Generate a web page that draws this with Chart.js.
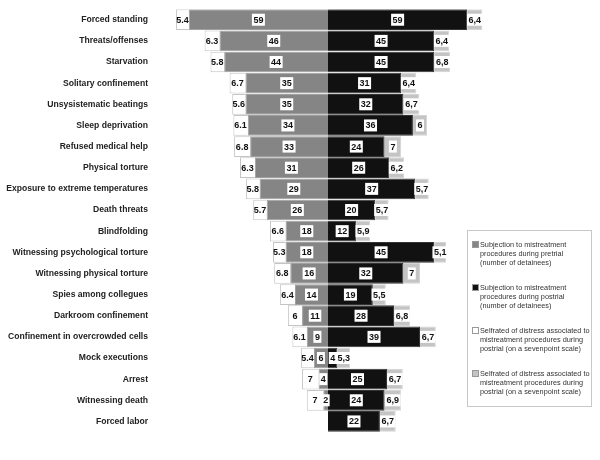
<!DOCTYPE html>
<html>
<head>
<meta charset="utf-8">
<script src="https://cdn.jsdelivr.net/npm/chart.js@4"></script>
<style>
  html, body { margin: 0; padding: 0; background: #fff; }
  #wrap { position: relative; width: 600px; height: 460px; }
  #legend {
    position: absolute; left: 467px; top: 230px; width: 125px; height: 177px;
    border: 1px solid #c8c8c8; box-sizing: border-box;
    font-family: 'Liberation Sans', Arial, sans-serif; font-size: 7.3px; color: #333; line-height: 9px;
    white-space: nowrap;
  }
  .item { position: absolute; left: 4px; right: 0; padding-left: 8px; }
  .item i { position: absolute; left: 0; top: 1px; width: 5px; height: 5px; border: 1px solid #999; }
</style>
</head>
<body>
<div id="wrap">
  <canvas id="c" width="600" height="460"></canvas>
  <div id="legend"></div>
</div>
<script>
// Mistreatment procedures: pretrial (left) vs postrial (right)
const categories = [
  'Forced standing', 'Threats/offenses', 'Starvation', 'Solitary confinement',
  'Unsysistematic beatings', 'Sleep deprivation', 'Refused medical help', 'Physical torture',
  'Exposure to extreme temperatures', 'Death threats', 'Blindfolding', 'Witnessing psychological torture',
  'Witnessing physical torture', 'Spies among collegues', 'Darkroom confinement',
  'Confinement in overcrowded cells', 'Mock executions', 'Arrest', 'Witnessing death', 'Forced labor'
];
const pretrialCount = [59, 46, 44, 35, 35, 34, 33, 31, 29, 26, 18, 18, 16, 14, 11, 9, 6, 4, 2, null];
const pretrialDistress = [5.4, 6.3, 5.8, 6.7, 5.6, 6.1, 6.8, 6.3, 5.8, 5.7, 6.6, 5.3, 6.8, 6.4, 6, 6.1, 5.4, 7, 7, null];
const postrialCount = [59, 45, 45, 31, 32, 36, 24, 26, 37, 20, 12, 45, 32, 19, 28, 39, 4, 25, 24, 22];
const postrialDistress = [6.4, 6.4, 6.8, 6.4, 6.7, 6, 7, 6.2, 5.7, 5.7, 5.9, 5.1, 7, 5.5, 6.8, 6.7, 5.3, 6.7, 6.9, 6.7];

const legendItems = [
  ['#858585', ['Subjection to mistreatment', 'procedures  during  pretrial', '(number of detainees)']],
  ['#111111', ['Subjection to mistreatment', 'procedures  during  postrial', '(number of detainees)']],
  ['#ffffff', ['Selfrated of distress associated to', 'mistreatment procedures during', 'postrial (on a sevenpoint scale)']],
  ['#c4c4c4', ['Selfrated of distress associated to', 'mistreatment procedures during', 'postrial (on a sevenpoint scale)']],
];

const FONT = "'Liberation Sans', Arial, sans-serif";
const neg = (arr) => arr.map((v) => (v == null ? null : -v));

const valueLabels = {
  id: 'valueLabels',
  afterDatasetsDraw(chart) {
    const ctx = chart.ctx;
    ctx.save();
    ctx.font = 'bold 9px ' + FONT;
    ctx.textAlign = 'center';
    ctx.textBaseline = 'middle';
    chart.data.datasets.forEach((ds, di) => {
      const meta = chart.getDatasetMeta(di);
      meta.data.forEach((bar, i) => {
        const raw = ds.src[i];
        if (raw == null) return;
        const txt = ds.decimal === ',' ? String(raw).replace('.', ',') : String(raw);
        const x = (bar.x + bar.base) / 2, y = bar.y;
        const w = ctx.measureText(txt).width;
        if (ds.boxed) {
          ctx.fillStyle = '#fff';
          ctx.fillRect(x - w / 2 - 1.5, y - 6, w + 3, 12);
        }
        ctx.fillStyle = '#111';
        ctx.fillText(txt, x, y + 0.5);
      });
    });
    ctx.restore();
  }
};

new Chart(document.getElementById('c'), {
  type: 'bar',
  data: {
    labels: categories,
    datasets: [
      { data: neg(pretrialCount), src: pretrialCount, boxed: true, backgroundColor: '#858585', borderColor: '#a0a0a0', borderWidth: 1 },
      { data: neg(pretrialDistress), src: pretrialDistress, boxed: false, backgroundColor: '#ffffff', borderColor: '#c4c4c4', borderWidth: 1 },
      { data: postrialCount, src: postrialCount, boxed: true, backgroundColor: '#111111', borderColor: '#333333', borderWidth: 1 },
      { data: postrialDistress, src: postrialDistress, boxed: true, decimal: ',', backgroundColor: '#c4c4c4', borderColor: '#d4d4d4', borderWidth: 1 },
    ]
  },
  options: {
    indexAxis: 'y',
    responsive: false,
    animation: false,
    layout: { padding: { top: 2, bottom: 28, right: 100, left: 0 } },
    barPercentage: 0.98,
    categoryPercentage: 1,
    plugins: { legend: { display: false }, tooltip: { enabled: false } },
    scales: {
      x: { stacked: true, display: false, min: -74.6, max: 72.9 },
      y: {
        stacked: true,
        grid: { display: false, drawTicks: false },
        border: { display: false },
        ticks: { padding: 4, color: '#222', font: { family: FONT, size: 8.6, weight: 'bold' }, autoSkip: false },
        afterFit(scale) { scale.width = 152; }
      }
    }
  },
  plugins: [valueLabels]
});

const lg = document.getElementById('legend');
legendItems.forEach(([color, lines], i) => {
  const d = document.createElement('div');
  d.className = 'item';
  d.style.top = (9 + i * 43) + 'px';
  d.innerHTML = '<i style="background:' + color + '"></i>' + lines.join('<br>');
  lg.appendChild(d);
});
</script>
</body>
</html>
